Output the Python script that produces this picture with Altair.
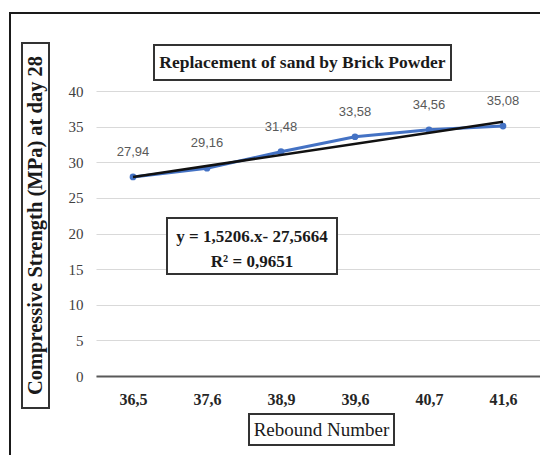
import altair as alt
import pandas as pd

# ---- data ----
rebound = ["36,5", "37,6", "38,9", "39,6", "40,7", "41,6"]
strength = [27.94, 29.16, 31.48, 33.58, 34.56, 35.08]
value_labels = ["27,94", "29,16", "31,48", "33,58", "34,56", "35,08"]
trend_cats = ["36,5", "41,6"]
trend_vals = [27.93, 35.69]
y_ticks = [0, 5, 10, 15, 20, 25, 30, 35, 40]

title_text = "Replacement of sand by Brick Powder"
y_title = "Compressive Strength (MPa) at day 28"
x_title = "Rebound Number"
eq_lines = ["y = 1,5206.x- 27,5664", "R\u00b2 = 0,9651"]

df = pd.DataFrame({"rebound": rebound, "strength": strength, "label": value_labels})
tdf = pd.DataFrame({"rebound": trend_cats, "strength": trend_vals})
one = pd.DataFrame({"k": [0]})

SERIF = "Liberation Serif"
BLUE = "#4472C4"

xenc = alt.X(
    "rebound:N",
    sort=rebound,
    scale=alt.Scale(type="point", padding=0.5, domain=rebound),
    axis=alt.Axis(
        title=None, ticks=False, grid=False, domainColor="#595959", domainWidth=2,
        labelFont=SERIF, labelFontWeight="bold", labelFontSize=16, labelColor="#262626",
        labelPadding=15, labelAngle=0,
    ),
)
yenc = alt.Y(
    "strength:Q",
    scale=alt.Scale(domain=[0, 40], nice=False),
    axis=alt.Axis(
        title=None, values=y_ticks, ticks=False, domain=False, grid=True,
        gridColor="#d9d9d9", gridWidth=1, labelFont=SERIF, labelFontSize=15,
        labelColor="#404040", labelPadding=13,
    ),
)

base = alt.Chart(df)

outer = alt.Chart(one).mark_rect(fill="transparent", stroke="#1a1a1a", strokeWidth=2).encode(
    x=alt.value(-86), x2=alt.value(470), y=alt.value(-78), y2=alt.value(420)
)

line = base.mark_line(color=BLUE, strokeWidth=3).encode(x=xenc, y=yenc)
pts = base.mark_circle(color=BLUE, size=45, opacity=1).encode(x=xenc, y=yenc)
trend = alt.Chart(tdf).mark_line(color="#111111", strokeWidth=2.5).encode(x=xenc, y=yenc)
lbls = base.mark_text(dy=-25, font="Liberation Sans", fontSize=13, color="#595959").encode(
    x=xenc, y=yenc, text="label:N"
)

# chart title box
tbox = alt.Chart(one).mark_rect(fill="white", stroke="#333333", strokeWidth=2).encode(
    x=alt.value(58), x2=alt.value(355), y=alt.value(-46), y2=alt.value(-11)
)
ttext = alt.Chart(one).mark_text(
    text=title_text, font=SERIF, fontSize=17.5, fontWeight="bold", color="#1a1a1a",
    align="center", baseline="middle",
).encode(x=alt.value(206.5), y=alt.value(-28))

# y title box
ybox = alt.Chart(one).mark_rect(fill="white", stroke="#333333", strokeWidth=2).encode(
    x=alt.value(-74), x2=alt.value(-47), y=alt.value(-48), y2=alt.value(317)
)
ytext = alt.Chart(one).mark_text(
    text=y_title, font=SERIF, fontSize=20.5, fontWeight="bold", color="#1a1a1a",
    align="center", baseline="middle", angle=270,
).encode(x=alt.value(-60), y=alt.value(134.5))

# x title box
xbox = alt.Chart(one).mark_rect(fill="white", stroke="#333333", strokeWidth=2).encode(
    x=alt.value(153), x2=alt.value(298), y=alt.value(323), y2=alt.value(354)
)
xtext = alt.Chart(one).mark_text(
    text=x_title, font=SERIF, fontSize=19, color="#1a1a1a",
    align="center", baseline="middle",
).encode(x=alt.value(225.5), y=alt.value(339))

# equation box
ebox = alt.Chart(one).mark_rect(fill="white", stroke="#333333", strokeWidth=2).encode(
    x=alt.value(71), x2=alt.value(241), y=alt.value(127), y2=alt.value(183)
)
etext1 = alt.Chart(one).mark_text(
    text=eq_lines[0], font=SERIF, fontSize=17, fontWeight="bold", color="#1a1a1a",
    align="center", baseline="middle",
).encode(x=alt.value(156), y=alt.value(146))
etext2 = alt.Chart(one).mark_text(
    text=eq_lines[1], font=SERIF, fontSize=17, fontWeight="bold", color="#1a1a1a",
    align="center", baseline="middle",
).encode(x=alt.value(156), y=alt.value(171))

chart = alt.layer(
    outer, line, pts, trend, lbls, tbox, ttext, ybox, ytext, xbox, xtext, ebox, etext1, etext2
).properties(
    width=444, height=285,
    autosize=alt.AutoSizeParams(type="none"),
    padding={"left": 88, "top": 83, "right": 0, "bottom": 79},
    background="white",
).configure_view(stroke=None)

chart.save("out.html", embed_options={"renderer": "svg", "actions": False})
